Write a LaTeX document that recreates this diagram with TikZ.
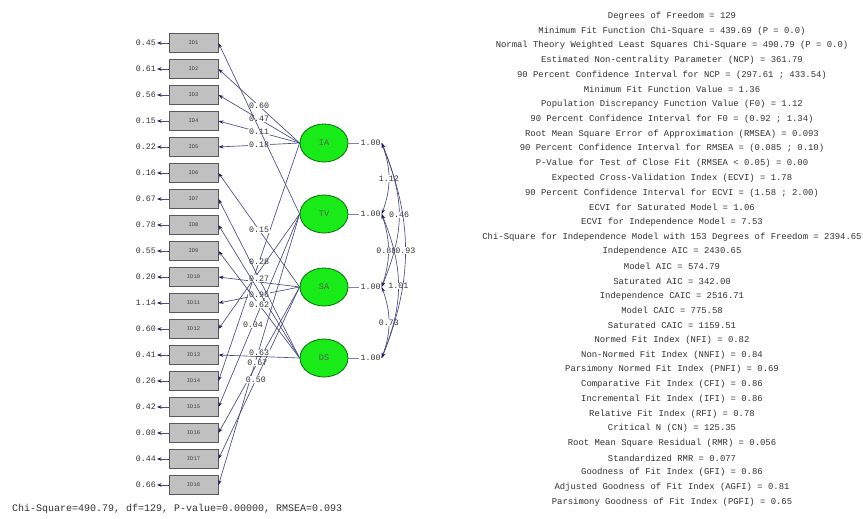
\documentclass[tikz,border=0pt]{standalone}
\usepackage{fontspec}
\setmonofont{Liberation Mono}
\usetikzlibrary{arrows.meta,shapes.geometric}
\definecolor{lineblue}{RGB}{75,75,130}
\definecolor{tipblue}{RGB}{30,30,105}
\definecolor{boxgray}{RGB}{192,192,192}
\definecolor{factgreen}{RGB}{25,235,25}
\definecolor{txt}{RGB}{50,50,50}
\tikzset{
  item/.style={draw=black!65, line width=1pt, fill=boxgray, minimum width=49pt, minimum height=19pt, inner sep=0pt, font=\ttfamily\fontsize{5.5}{6}\selectfont, text=black!75},
  factor/.style={ellipse, draw=black!55!green, line width=0.8pt, fill=factgreen, minimum width=48pt, minimum height=38pt, inner sep=0pt, font=\ttfamily\fontsize{8.5}{9}\selectfont, text=black!65},
  load/.style={draw=lineblue, line width=0.65pt, -{Stealth[length=5pt,width=3.5pt,color=tipblue]}},
  errarr/.style={draw=lineblue, line width=0.8pt, -{Stealth[length=4.5pt,width=3.5pt,color=tipblue]}},
  numlab/.style={font=\ttfamily\fontsize{8.3}{9}\selectfont, text=txt, inner sep=1pt},
  loadlab/.style={numlab, fill=white, inner sep=0.6pt},
  varline/.style={draw=lineblue!70, line width=0.6pt},
  corr/.style={draw=lineblue, line width=0.65pt, {Stealth[length=5pt,width=3.5pt,color=tipblue]}-{Stealth[length=5pt,width=3.5pt,color=tipblue]}},
  stat/.style={font=\ttfamily\fontsize{8.9}{10}\selectfont, text=txt, inner sep=0pt}
}
\begin{document}
\begin{tikzpicture}[x=1pt,y=1pt]
\useasboundingbox (0,0) rectangle (863,-519);
\fill[white] (0,0) rectangle (863,-519);

% observed variables with error variances
\foreach \i/\v in {1/0.45,2/0.61,3/0.56,4/0.15,5/0.22,6/0.16,7/0.67,8/0.78,9/0.55,10/0.20,11/1.14,12/0.60,13/0.41,14/0.26,15/0.42,16/0.08,17/0.44,18/0.66}{
  \node[item] (ID\i) at (193.5,{-43-26*(\i-1)}) {ID\i};
  \node[numlab, anchor=east] (E\i) at (157,{-43-26*(\i-1)}) {\v};
  \draw[errarr] (ID\i.west) -- (E\i.east);
}

% latent factors
\node[factor] (IA) at (324,-143) {IA};
\node[factor] (TV) at (324,-214) {TV};
\node[factor] (SA) at (324,-287) {SA};
\node[factor] (DS) at (324,-358) {DS};

% loadings
\draw[load] (IA.west) -- node[loadlab]{0.60} (ID2.east);
\draw[load] (IA.west) -- node[loadlab]{0.47} (ID3.east);
\draw[load] (IA.west) -- node[loadlab]{0.11} (ID4.east);
\draw[load] (IA.west) -- node[loadlab]{0.18} (ID5.east);
\draw[load] (IA.west) -- node[loadlab]{0.28} (ID14.east);
\draw[load] (TV.west) -- (ID1.east);
\draw[load] (TV.west) -- (ID12.east);
\draw[load] (TV.west) -- node[loadlab,pos=0.575]{0.04} (ID15.east);
\draw[load] (TV.west) -- (ID18.east);
\draw[load] (SA.west) -- node[loadlab]{0.15} (ID6.east);
\draw[load] (SA.west) -- (ID10.east);
\draw[load] (SA.west) -- node[loadlab]{0.96} (ID11.east);
\draw[load] (SA.west) -- node[loadlab,pos=0.52]{0.67} (ID16.east);
\draw[load] (SA.west) -- node[loadlab,pos=0.54]{0.50} (ID17.east);
\draw[load] (DS.west) -- node[loadlab]{0.27} (ID7.east);
\draw[load] (DS.west) -- (ID8.east);
\draw[load] (DS.west) -- node[loadlab]{0.62} (ID9.east);
\draw[load] (DS.west) -- node[loadlab,yshift=3.5pt]{0.63} (ID13.east);

% factor variances
\foreach \f in {IA,TV,SA,DS}{
  \node[numlab, anchor=west] (v\f) at ([xshift=11pt]\f.east) {1.00};
  \draw[varline] (\f.east) -- (v\f.west);
}

% factor correlations
\draw[corr] (vIA.east) to[out=-70,in=70] node[loadlab]{1.12} (vTV.east);
\draw[corr] (vTV.east) to[out=-72,in=72] node[loadlab,xshift=-2pt]{0.88} (vSA.east);
\draw[corr] (vSA.east) to[out=-70,in=70] node[loadlab]{0.73} (vDS.east);
\draw[corr] (vIA.east) to[out=-68,in=68,looseness=1.1] node[loadlab]{0.46} (vSA.east);
\draw[corr] (vTV.east) to[out=-68,in=68,looseness=1.05] node[loadlab]{1.01} (vDS.east);
\draw[corr] (vIA.east) to[out=-68,in=68] node[loadlab]{0.93} (vDS.east);

% bottom fit line
\node[anchor=west, font=\ttfamily\fontsize{10}{11}\selectfont, text=txt, inner sep=0pt] (chi) at (12,-509) {Chi-Square=490.79, df=129, P-value=0.00000, RMSEA=0.093};

% goodness of fit statistics
\foreach \t [count=\i] in {
{Degrees of Freedom = 129},
{Minimum Fit Function Chi-Square = 439.69 (P = 0.0)},
{Normal Theory Weighted Least Squares Chi-Square = 490.79 (P = 0.0)},
{Estimated Non-centrality Parameter (NCP) = 361.79},
{90 Percent Confidence Interval for NCP = (297.61 ; 433.54)},
{Minimum Fit Function Value = 1.36},
{Population Discrepancy Function Value (F0) = 1.12},
{90 Percent Confidence Interval for F0 = (0.92 ; 1.34)},
{Root Mean Square Error of Approximation (RMSEA) = 0.093},
{90 Percent Confidence Interval for RMSEA = (0.085 ; 0.10)},
{P-Value for Test of Close Fit (RMSEA < 0.05) = 0.00},
{Expected Cross-Validation Index (ECVI) = 1.78},
{90 Percent Confidence Interval for ECVI = (1.58 ; 2.00)},
{ECVI for Saturated Model = 1.06},
{ECVI for Independence Model = 7.53},
{Chi-Square for Independence Model with 153 Degrees of Freedom = 2394.65},
{Independence AIC = 2430.65},
{Model AIC = 574.79},
{Saturated AIC = 342.00},
{Independence CAIC = 2516.71},
{Model CAIC = 775.58},
{Saturated CAIC = 1159.51},
{Normed Fit Index (NFI) = 0.82},
{Non-Normed Fit Index (NNFI) = 0.84},
{Parsimony Normed Fit Index (PNFI) = 0.69},
{Comparative Fit Index (CFI) = 0.86},
{Incremental Fit Index (IFI) = 0.86},
{Relative Fit Index (RFI) = 0.78},
{Critical N (CN) = 125.35},
{Root Mean Square Residual (RMR) = 0.056},
{Standardized RMR = 0.077},
{Goodness of Fit Index (GFI) = 0.86},
{Adjusted Goodness of Fit Index (AGFI) = 0.81},
{Parsimony Goodness of Fit Index (PGFI) = 0.65}}{
  \node[stat] (st\i) at (672,{-16-14.73*(\i-1)}) {\t};
}
\end{tikzpicture}
\end{document}
